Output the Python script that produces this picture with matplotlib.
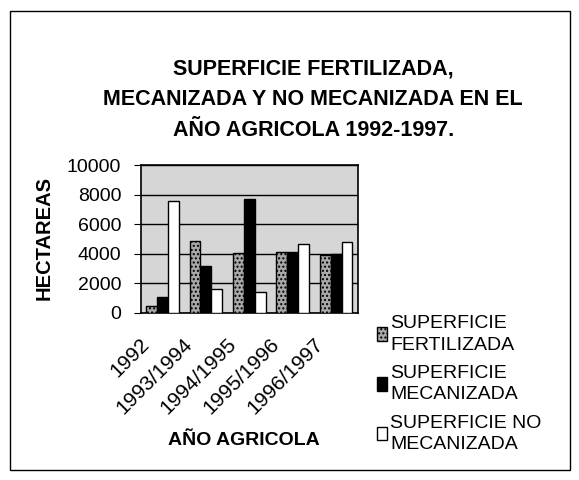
import numpy as np
import matplotlib.pyplot as plt
import matplotlib.transforms as mtransforms
from matplotlib.patches import Rectangle
from matplotlib.legend_handler import HandlerPatch

plt.rcParams['font.family'] = ['Liberation Sans', 'DejaVu Sans']

years = ['1992', '1993/1994', '1994/1995', '1995/1996', '1996/1997']
fertilizada = [450, 4850, 4050, 4150, 3900]
mecanizada = [1100, 3150, 7700, 4100, 4000]
no_mecanizada = [7600, 1650, 1400, 4650, 4800]

fig = plt.figure(figsize=(5.79, 4.8), dpi=100)
fig.patches.append(Rectangle((0.017, 0.02), 0.968, 0.958, transform=fig.transFigure,
                             fill=False, edgecolor='black', linewidth=1))

ax = fig.add_axes([0.243, 0.348, 0.375, 0.308])
ax.set_facecolor('#d6d6d6')

x = np.arange(len(years))
w = 0.25
ax.bar(x - w, fertilizada, w, color='#a9a9a9', edgecolor='black', hatch='....',
       linewidth=1, label='SUPERFICIE\nFERTILIZADA', zorder=3)
ax.bar(x, mecanizada, w, color='black', edgecolor='black', linewidth=1,
       label='SUPERFICIE\nMECANIZADA', zorder=3)
ax.bar(x + w, no_mecanizada, w, color='white', edgecolor='black', linewidth=1,
       label='SUPERFICIE NO\nMECANIZADA', zorder=3)

ax.set_ylim(0, 10000)
ax.set_xlim(-0.5, 4.5)
ax.set_yticks(range(0, 10001, 2000))
ax.yaxis.grid(True, color='black', linewidth=1, zorder=1)
ax.set_xticks(x)
ax.tick_params(axis='y', labelsize=14, direction='out', length=5, pad=9)
ax.tick_params(axis='x', length=0, pad=2)
ax.set_xticklabels(years, rotation=45, ha='right', rotation_mode='anchor', fontsize=15)
shift = mtransforms.ScaledTranslation(-0.23, -0.19, fig.dpi_scale_trans)
for lab in ax.get_xticklabels():
    lab.set_transform(lab.get_transform() + shift)
for s in ax.spines.values():
    s.set_linewidth(1.2)

ax.set_ylabel('HECTAREAS', fontsize=14.5, fontweight='bold')
ax.yaxis.set_label_coords(-0.40, 0.505)
fig.text(0.421, 0.083, 'AÑO AGRICOLA', fontsize=14, fontweight='bold', ha='center', va='center')

fig.text(0.541, 0.792, 'SUPERFICIE FERTILIZADA,\nMECANIZADA Y NO MECANIZADA EN EL\nAÑO AGRICOLA 1992-1997.',
         fontsize=15.5, fontweight='bold', ha='center', va='center', linespacing=1.6)


# legend square sits beside the first line of each label
def top_square(legend, orig_handle, xdescent, ydescent, width, height, fontsize):
    s = 0.55 * fontsize
    return Rectangle((-xdescent, 0.82 * fontsize), s, s)


leg = fig.legend(loc='upper left', bbox_to_anchor=(0.637, 0.36), frameon=False, fontsize=14,
                 handlelength=0.55, handleheight=0.7, handletextpad=0.15, labelspacing=0.58,
                 borderaxespad=0, handler_map={Rectangle: HandlerPatch(patch_func=top_square)})
for t in leg.get_texts():
    t.set_linespacing(1.35)

fig.savefig('out.png', dpi=100)
